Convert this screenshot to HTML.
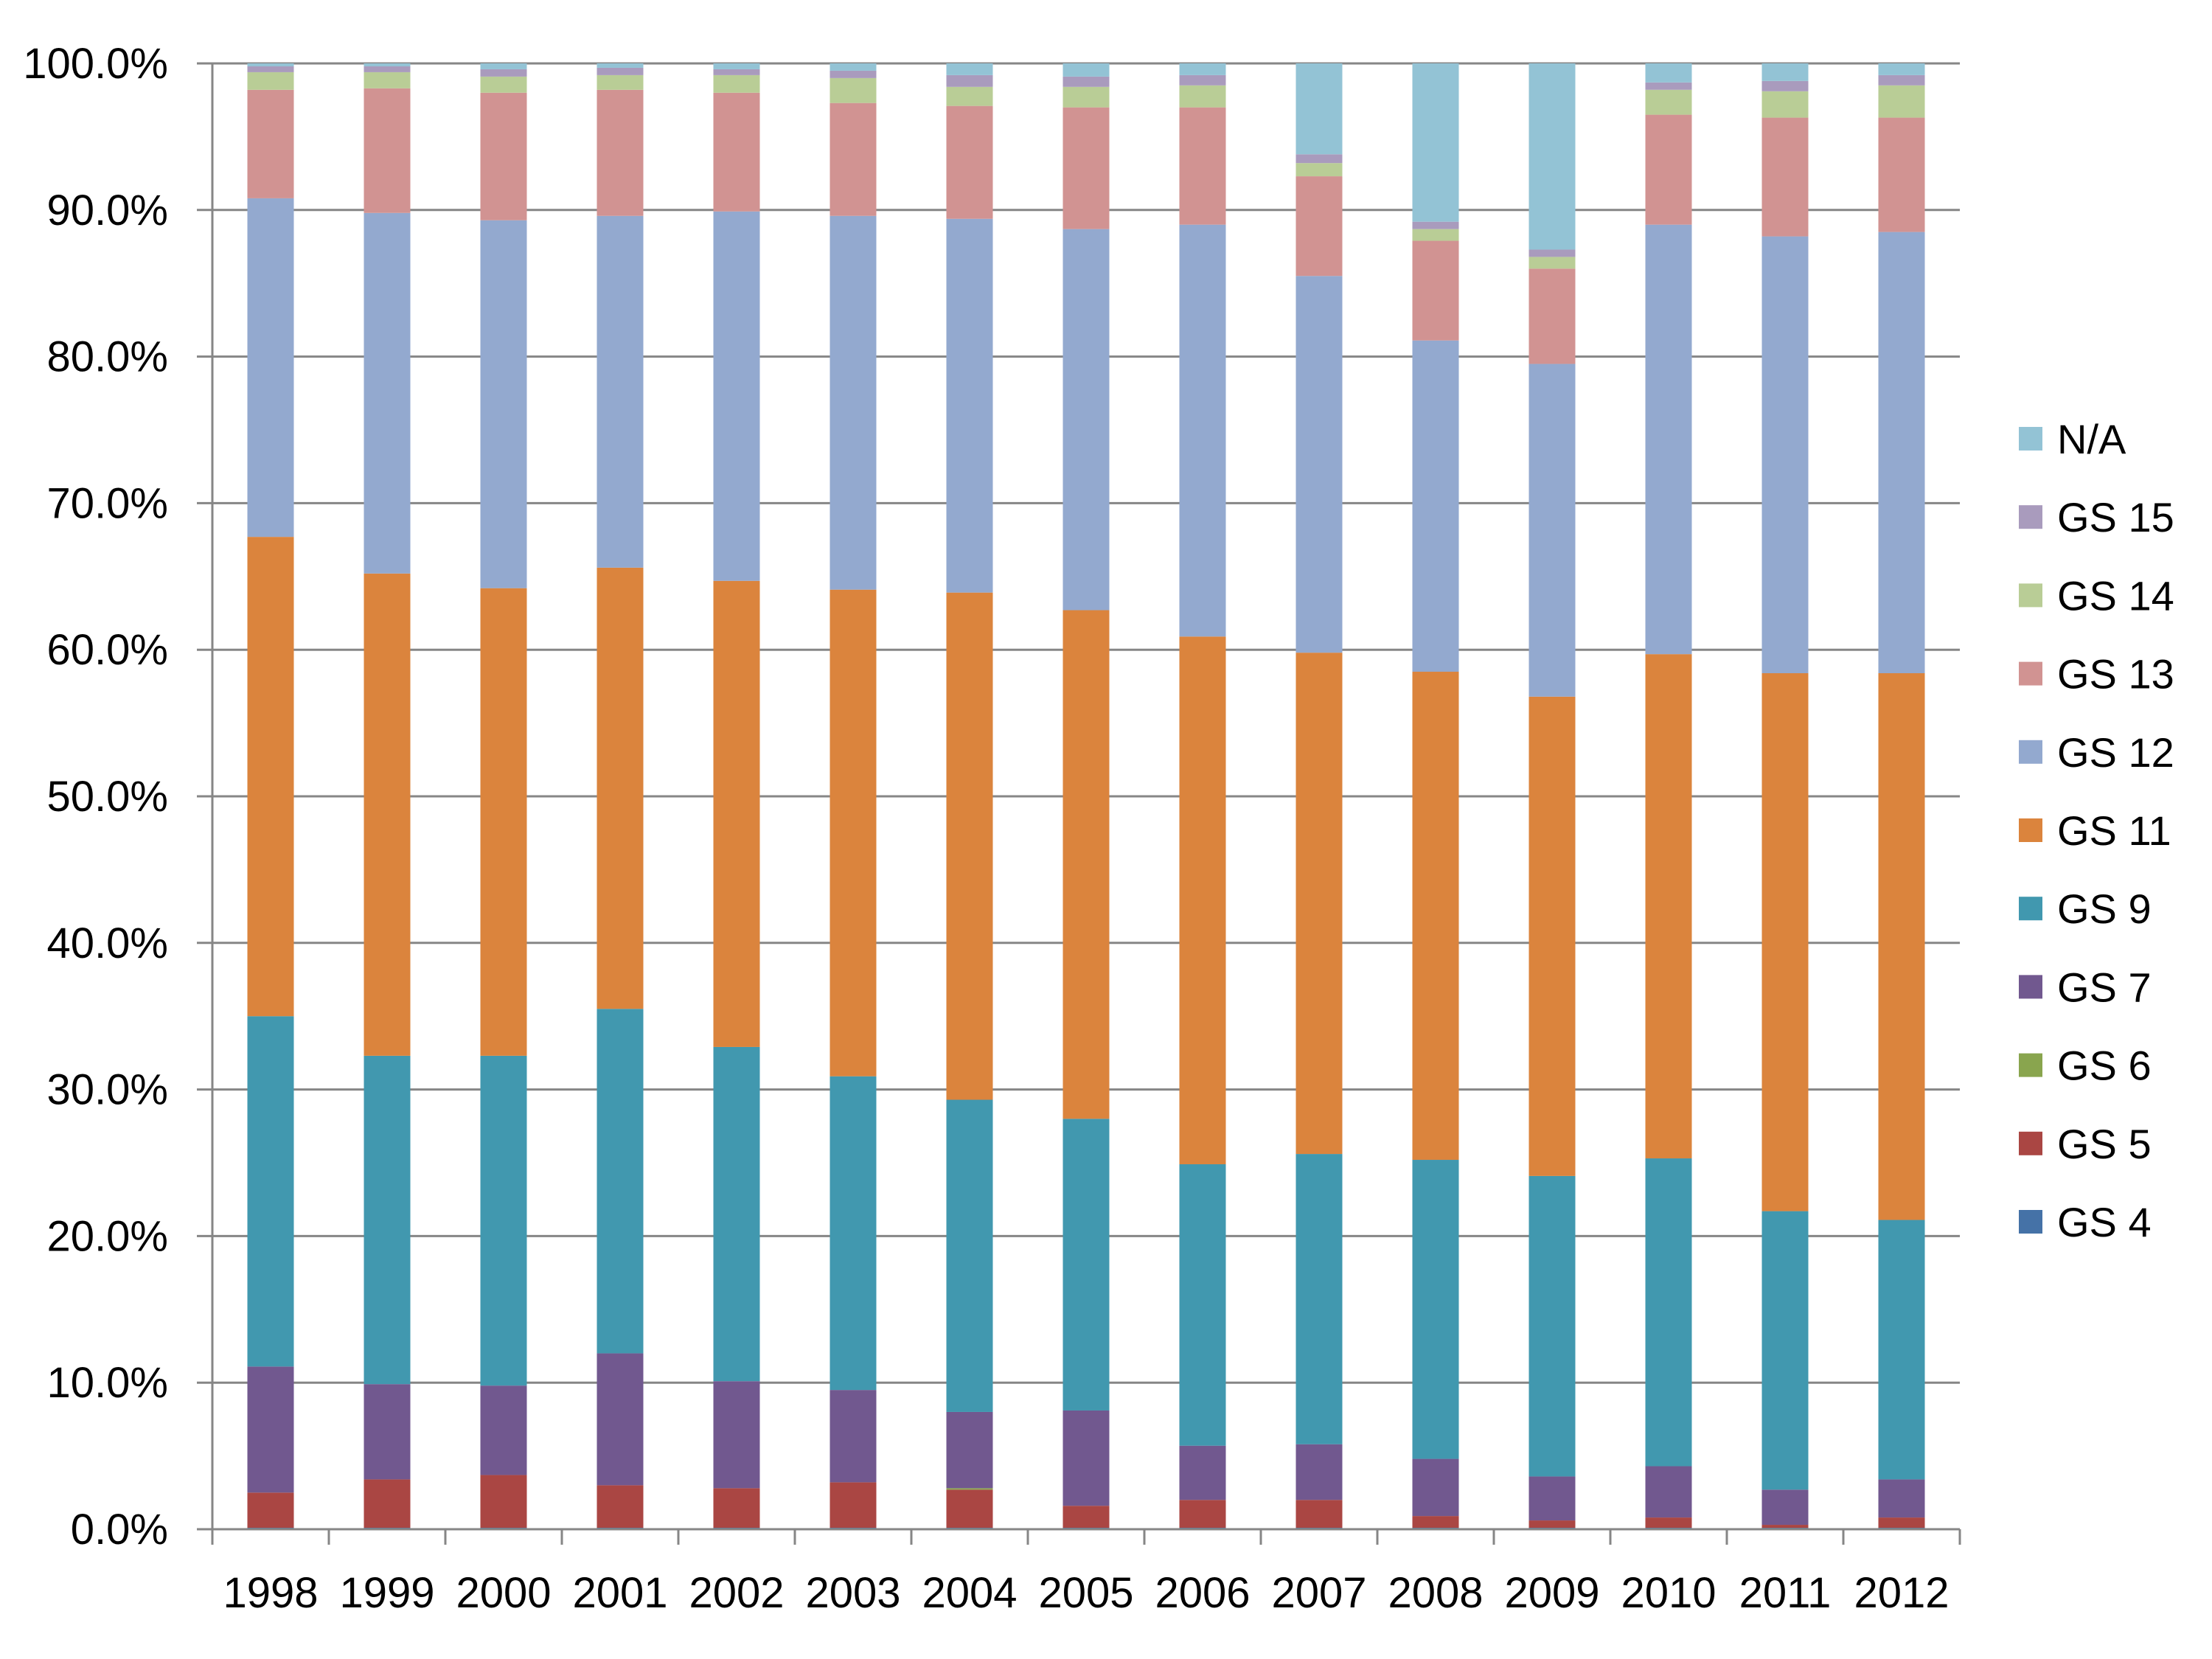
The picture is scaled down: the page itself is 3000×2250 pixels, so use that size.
<!DOCTYPE html>
<html><head><meta charset="utf-8"><style>
html,body{margin:0;padding:0;background:#fff;}
svg{display:block;font-family:"Liberation Sans",sans-serif;}
</style></head><body>
<svg id="chart" width="3000" height="2250" viewBox="0 0 3000 2250" xmlns="http://www.w3.org/2000/svg"></svg>
<script>
const categories=["1998","1999","2000","2001","2002","2003","2004","2005","2006","2007","2008","2009","2010","2011","2012"];
const seriesNames=["GS 4","GS 5","GS 6","GS 7","GS 9","GS 11","GS 12","GS 13","GS 14","GS 15","N/A"];
const gs4 =[0.1,0.1,0.1,0.1,0.1,0.1,0.1,0.1,0.1,0.1,0.1,0.1,0.1,0.1,0.1];
const gs5 =[2.4,3.3,3.6,2.9,2.7,3.1,2.6,1.5,1.9,1.9,0.8,0.5,0.7,0.2,0.7];
const gs6 =[0,0,0,0,0,0,0.1,0,0,0,0,0,0,0,0];
const gs7 =[8.6,6.5,6.1,9.0,7.3,6.3,5.2,6.5,3.7,3.8,3.9,3.0,3.5,2.4,2.6];
const gs9 =[23.9,22.4,22.5,23.5,22.8,21.4,21.3,19.9,19.2,19.8,20.4,20.5,21.0,19.0,17.7];
const gs11=[32.7,32.9,31.9,30.1,31.8,33.2,34.6,34.7,36.0,34.2,33.3,32.7,34.4,36.7,37.3];
const gs12=[23.1,24.6,25.1,24.0,25.2,25.5,25.5,26.0,28.1,25.7,22.6,22.7,29.3,29.8,30.1];
const gs13=[7.4,8.5,8.7,8.6,8.1,7.7,7.7,8.3,8.0,6.8,6.8,6.5,7.5,8.1,7.8];
const gs14=[1.2,1.1,1.1,1.0,1.2,1.7,1.3,1.4,1.5,0.9,0.8,0.8,1.7,1.8,2.2];
const gs15=[0.4,0.4,0.5,0.5,0.4,0.5,0.8,0.7,0.7,0.6,0.5,0.5,0.5,0.7,0.7];
const na  =[0.2,0.2,0.4,0.3,0.4,0.5,0.8,0.9,0.8,6.2,10.8,12.7,1.3,1.2,0.8];
const yTicks=[0,10,20,30,40,50,60,70,80,90,100];
const yTickLabels=["0.0%","10.0%","20.0%","30.0%","40.0%","50.0%","60.0%","70.0%","80.0%","90.0%","100.0%"];

const series=[gs4,gs5,gs6,gs7,gs9,gs11,gs12,gs13,gs14,gs15,na];
const colors=["#4572a7","#aa4643","#89a54e","#71588f","#4198af","#db843d","#93a9cf","#d19392","#b9cd96","#a99bbd","#93c3d5"];
const svg=document.getElementById('chart');
const NS="http://www.w3.org/2000/svg";
const X0=288,X1=2658,Y0=2074,Y1=86;
const band=(X1-X0)/categories.length, barW=63;
function y(v){return Y0-(v/100)*(Y0-Y1);}
function xc(i){return X0+band*(i+0.5);}
function mk(tag,attrs,parent){const e=document.createElementNS(NS,tag);for(const k in attrs)e.setAttribute(k,attrs[k]);(parent||svg).appendChild(e);return e;}

const grid=mk('g',{});


yTicks.forEach((t,i)=>{
  const l=mk('line',{x1:267,x2:X1,y1:y(t),y2:y(t),stroke:'#868686','stroke-width':3},grid);
  
  
  const tx=mk('text',{x:228,y:y(t)+20,'text-anchor':'end','font-size':58,fill:'#000'});
  tx.textContent=yTickLabels[i];
  
  
});
const bars=mk('g',{});


categories.forEach((c,i)=>{
  let acc=0;
  series.forEach((s,j)=>{
    const v=s[i]; if(v<=0){return;}
    const r=mk('rect',{x:xc(i)-barW/2,y:y(acc+v),width:barW,height:y(acc)-y(acc+v),fill:colors[j]},bars);
    
    
    acc+=v;
  });
  const tx=mk('text',{x:xc(i),y:2180,'text-anchor':'middle','font-size':58,fill:'#000'});
  tx.textContent=c;
  
  
});
const ax=mk('g',{});


const ya=mk('line',{x1:X0,x2:X0,y1:Y1,y2:Y0,stroke:'#868686','stroke-width':3},ax);


const xa=mk('line',{x1:267,x2:X1,y1:Y0,y2:Y0,stroke:'#868686','stroke-width':3},ax);


for(let i=0;i<=categories.length;i++){
  const t=mk('line',{x1:X0+band*i,x2:X0+band*i,y1:Y0,y2:2095,stroke:'#868686','stroke-width':3},ax);
  
  
}
const lg=mk('g',{});


for(let k=0;k<seriesNames.length;k++){
  const j=seriesNames.length-1-k;
  const cy=595+k*106.2;
  const g=mk('g',{},lg);
  
  
  const sw=mk('rect',{x:2738,y:cy-16,width:32,height:32,fill:colors[j]},g);
  
  
  const tx=mk('text',{x:2790,y:cy+20,'font-size':56,fill:'#000'},g);
  tx.textContent=seriesNames[j];
  
  
}
</script>
</body></html>
